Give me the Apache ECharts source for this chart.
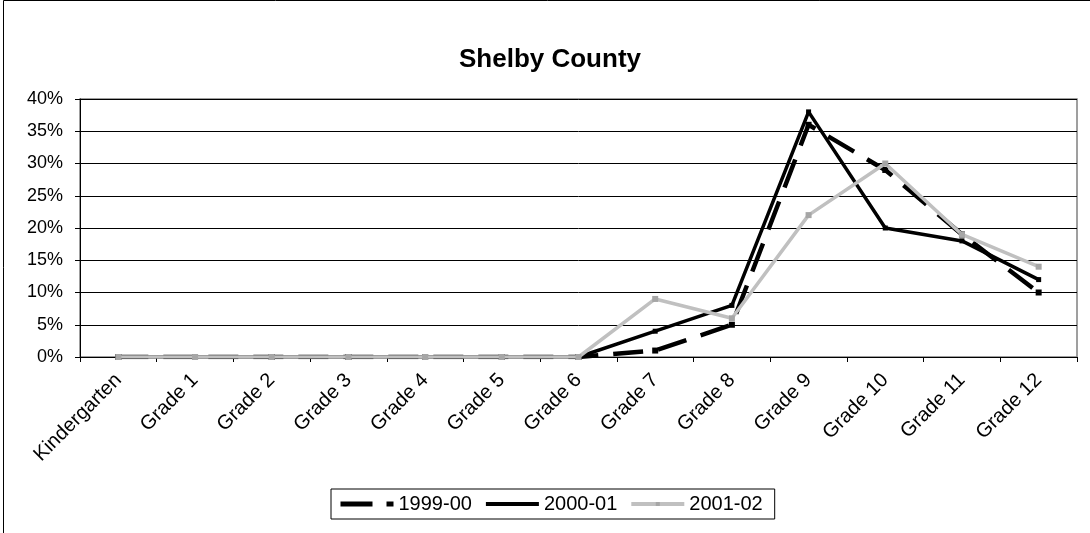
<!DOCTYPE html>
<html>
<head>
<meta charset="utf-8">
<script src="https://cdn.jsdelivr.net/npm/echarts@6/dist/echarts.min.js"></script>
<style>
  html, body { margin: 0; padding: 0; background: #fff; }
  #chart { width: 1090px; height: 533px; }
</style>
</head>
<body>
<div id="chart"></div>
<script>
// Grade levels along the x axis
const grades = ['Kindergarten', 'Grade 1', 'Grade 2', 'Grade 3', 'Grade 4', 'Grade 5',
  'Grade 6', 'Grade 7', 'Grade 8', 'Grade 9', 'Grade 10', 'Grade 11', 'Grade 12'];

// Share of students by grade (percent), one array per school year
const year1999 = [0, 0, 0, 0, 0, 0, 0, 1, 5, 36, 29, 19, 10];
const year2000 = [0, 0, 0, 0, 0, 0, 0, 4, 8, 38, 20, 18, 12];
const year2001 = [0, 0, 0, 0, 0, 0, 0, 9, 6, 22, 30, 19, 14];

const yTicks = [0, 5, 10, 15, 20, 25, 30, 35, 40];

const FONT = '"Liberation Sans", Arial, sans-serif';

const chart = echarts.init(document.getElementById('chart'), null, { renderer: 'canvas' });

chart.setOption({
  animation: false,
  backgroundColor: '#fff',
  textStyle: { fontFamily: FONT, color: '#000' },
  title: {
    text: 'Shelby County',
    left: 550,
    top: 47,
    textAlign: 'center',
    padding: 0,
    textStyle: { fontFamily: FONT, fontSize: 26, fontWeight: 'bold', color: '#000' }
  },
  graphic: [{
    type: 'rect',
    shape: { x: 3.5, y: 0.5, width: 1200, height: 700 },
    style: { fill: 'none', stroke: '#000', lineWidth: 1 },
    silent: true,
    z: 100
  }],
  legend: {
    left: 331,
    top: 489,
    padding: [5, 12, 5, 7],
    itemWidth: 53,
    itemHeight: 5,
    itemGap: 12,
    borderColor: '#000',
    borderWidth: 1,
    textStyle: { fontFamily: FONT, fontSize: 20, lineHeight: 20, color: '#000' },
    data: [
      { name: '1999-00', lineStyle: { width: 5, type: [32, 14] } },
      { name: '2000-01', lineStyle: { width: 4 } },
      { name: '2001-02', lineStyle: { width: 4 } }
    ]
  },
  grid: {
    left: 80,
    right: 13,
    top: 99,
    bottom: 176,
    show: true,
    borderColor: '#808080',
    borderWidth: 1.5
  },
  xAxis: {
    type: 'category',
    data: grades,
    boundaryGap: true,
    axisLine: { lineStyle: { color: '#000', width: 1 } },
    axisTick: { show: true, alignWithLabel: false, length: 5, lineStyle: { color: '#000' } },
    axisLabel: {
      rotate: 45,
      margin: 20,
      interval: 0,
      fontFamily: FONT,
      fontSize: 20,
      color: '#000'
    },
    splitLine: { show: false }
  },
  yAxis: {
    type: 'value',
    min: yTicks[0],
    max: yTicks[yTicks.length - 1],
    interval: 5,
    axisLine: { show: true, lineStyle: { color: '#000', width: 1 } },
    axisTick: { show: true, length: 5, lineStyle: { color: '#000' } },
    axisLabel: {
      margin: 17,
      fontFamily: FONT,
      fontSize: 18,
      color: '#000',
      formatter: v => v + '%'
    },
    splitLine: { show: true, lineStyle: { color: '#000', width: 1 } }
  },
  series: [
    {
      name: '1999-00',
      type: 'line',
      data: year1999,
      symbol: 'rect',
      symbolSize: 6,
      showAllSymbol: true,
      itemStyle: { color: '#000' },
      lineStyle: { color: '#000', width: 4.5, type: [30, 15] },
      z: 2
    },
    {
      name: '2000-01',
      type: 'line',
      data: year2000,
      symbol: 'rect',
      symbolSize: 5,
      showAllSymbol: true,
      itemStyle: { color: '#000' },
      lineStyle: { color: '#000', width: 3.5 },
      z: 3
    },
    {
      name: '2001-02',
      type: 'line',
      data: year2001,
      symbol: 'rect',
      symbolSize: 6,
      showAllSymbol: true,
      itemStyle: { color: '#a6a6a6' },
      lineStyle: { color: '#c0c0c0', width: 3.5 },
      z: 4
    }
  ]
});
</script>
</body>
</html>
